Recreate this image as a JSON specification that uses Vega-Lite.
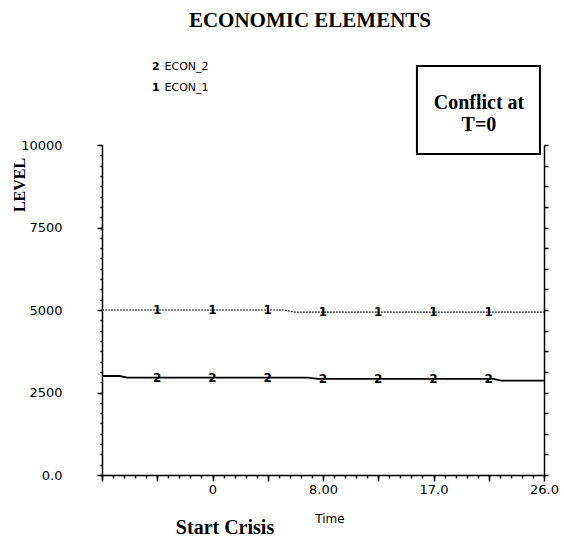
{
  "$schema": "https://vega.github.io/schema/vega-lite/v6.json",
  "width": 442,
  "height": 330,
  "autosize": {"type": "none"},
  "padding": {"left": 102, "top": 145, "right": 20, "bottom": 67},
  "background": "white",
  "config": {
    "view": {"stroke": null},
    "axis": {"grid": false, "domainColor": "black", "tickColor": "black", "labelColor": "black", "title": null, "labelFont": "DejaVu Sans", "labelFontSize": 13}
  },
  "datasets": {
    "lines": [
      {"series": "ECON_1", "time": -9, "level": 5000},
      {"series": "ECON_1", "time": 5.4, "level": 5000},
      {"series": "ECON_1", "time": 6.3, "level": 4935},
      {"series": "ECON_1", "time": 26, "level": 4935},
      {"series": "ECON_2", "time": -9, "level": 3000},
      {"series": "ECON_2", "time": -7.6, "level": 3000},
      {"series": "ECON_2", "time": -7.0, "level": 2950},
      {"series": "ECON_2", "time": 7.3, "level": 2950},
      {"series": "ECON_2", "time": 8.1, "level": 2910},
      {"series": "ECON_2", "time": 22.0, "level": 2910},
      {"series": "ECON_2", "time": 22.6, "level": 2860},
      {"series": "ECON_2", "time": 26, "level": 2860}
    ],
    "markers": [
      {"label": "1", "time": -4.625, "level": 5000},
      {"label": "1", "time": -0.25, "level": 5000},
      {"label": "1", "time": 4.125, "level": 5000},
      {"label": "1", "time": 8.5, "level": 4935},
      {"label": "1", "time": 12.875, "level": 4935},
      {"label": "1", "time": 17.25, "level": 4935},
      {"label": "1", "time": 21.625, "level": 4935},
      {"label": "2", "time": -4.625, "level": 2950},
      {"label": "2", "time": -0.25, "level": 2950},
      {"label": "2", "time": 4.125, "level": 2950},
      {"label": "2", "time": 8.5, "level": 2910},
      {"label": "2", "time": 12.875, "level": 2910},
      {"label": "2", "time": 17.25, "level": 2910},
      {"label": "2", "time": 21.625, "level": 2910}
    ]
  },
  "layer": [
    {
      "data": {"name": "lines"},
      "transform": [{"filter": "datum.series == 'ECON_1'"}],
      "mark": {"type": "line", "color": "#222", "strokeWidth": 1.2, "strokeDash": [2, 1]},
      "encoding": {
        "x": {"field": "time", "type": "quantitative", "scale": {"domain": [-9, 26], "nice": false, "zero": false},
          "axis": {"orient": "bottom", "values": [-9, -4.625, -0.25, 4.125, 8.5, 12.875, 17.25, 21.625, 26], "tickSize": 6, "tickWidth": 1.5, "domainWidth": 1.5, "labelPadding": 2, "labelOverlap": false, "labelFlush": false, "labelBound": false,
            "labelExpr": "datum.value == -0.25 ? '0' : datum.value == 8.5 ? '8.00' : datum.value == 17.25 ? '17.0' : datum.value == 26 ? '26.0' : ''"}},
        "y": {"field": "level", "type": "quantitative", "scale": {"domain": [0, 10000], "nice": false, "zero": false},
          "axis": {"orient": "left", "values": [0, 2500, 5000, 7500, 10000], "tickSize": 5, "tickWidth": 1.5, "domainWidth": 1.5, "labelPadding": 35, "labelOverlap": false, "labelFlush": false, "labelBound": false,
            "labelExpr": "datum.value == 0 ? '0.0' : '' + datum.value"}}
      }
    },
    {
      "data": {"name": "lines"},
      "transform": [{"filter": "datum.series == 'ECON_2'"}],
      "mark": {"type": "line", "color": "black", "strokeWidth": 1.8},
      "encoding": {
        "x": {"field": "time", "type": "quantitative", "scale": {"domain": [-9, 26], "nice": false, "zero": false},
          "axis": {"orient": "bottom", "values": [-9, -8.125, -7.25, -6.375, -5.5, -4.625, -3.75, -2.875, -2, -1.125, -0.25, 0.625, 1.5, 2.375, 3.25, 4.125, 5, 5.875, 6.75, 7.625, 8.5, 9.375, 10.25, 11.125, 12, 12.875, 13.75, 14.625, 15.5, 16.375, 17.25, 18.125, 19, 19.875, 20.75, 21.625, 22.5, 23.375, 24.25, 25.125, 26], "tickSize": 3, "tickWidth": 1.5, "domain": false, "labels": false}},
        "y": {"field": "level", "type": "quantitative", "scale": {"domain": [0, 10000], "nice": false, "zero": false},
          "axis": {"orient": "left", "values": [0, 312.5, 625, 937.5, 1250, 1562.5, 1875, 2187.5, 2500, 2812.5, 3125, 3437.5, 3750, 4062.5, 4375, 4687.5, 5000, 5312.5, 5625, 5937.5, 6250, 6562.5, 6875, 7187.5, 7500, 7812.5, 8125, 8437.5, 8750, 9062.5, 9375, 9687.5, 10000], "tickSize": 2, "tickWidth": 1.5, "domain": false, "labels": false}}
      }
    },
    {
      "data": {"name": "markers"},
      "mark": {"type": "text", "font": "DejaVu Sans", "fontWeight": "bold", "fontSize": 12, "baseline": "middle", "align": "center", "color": "black"},
      "encoding": {
        "x": {"field": "time", "type": "quantitative", "scale": {"domain": [-9, 26], "nice": false, "zero": false}, "axis": null},
        "y": {"field": "level", "type": "quantitative", "scale": {"domain": [0, 10000], "nice": false, "zero": false},
          "axis": {"orient": "right", "values": [0, 625, 1250, 1875, 2500, 3125, 3750, 4375, 5000, 5625, 6250, 6875, 7500, 8125, 8750, 9375, 10000], "tickSize": 4, "tickWidth": 1.5, "domainWidth": 1.5, "labels": false}},
        "text": {"field": "label"}
      }
    },
    {
      "data": {"values": [{}]},
      "mark": {"type": "rect", "fill": "white", "stroke": "black", "strokeWidth": 2},
      "encoding": {
        "x": {"datum": 15.94, "type": "quantitative", "scale": {"domain": [-9, 26], "nice": false, "zero": false}, "axis": null},
        "x2": {"datum": 25.68},
        "y": {"datum": 12394, "type": "quantitative", "scale": {"domain": [0, 10000], "nice": false, "zero": false}, "axis": null},
        "y2": {"datum": 9727}
      }
    },
    {
      "data": {"values": [{}]},
      "mark": {"type": "text", "text": ["Conflict at", "T=0"], "lineHeight": 22, "font": "Liberation Serif", "fontWeight": "bold", "fontSize": 20, "align": "center", "baseline": "alphabetic", "color": "black"},
      "encoding": {
        "x": {"datum": 20.85, "type": "quantitative", "scale": {"domain": [-9, 26], "nice": false, "zero": false}, "axis": null},
        "y": {"datum": 11091, "type": "quantitative", "scale": {"domain": [0, 10000], "nice": false, "zero": false}, "axis": null}
      }
    },
    {
      "data": {"values": [{}]},
      "mark": {"type": "text", "text": "ECONOMIC ELEMENTS", "font": "Liberation Serif", "fontWeight": "bold", "fontSize": 21, "align": "center", "baseline": "alphabetic", "color": "black"},
      "encoding": {
        "x": {"datum": 7.47, "type": "quantitative", "scale": {"domain": [-9, 26], "nice": false, "zero": false}, "axis": null},
        "y": {"datum": 13576, "type": "quantitative", "scale": {"domain": [0, 10000], "nice": false, "zero": false}, "axis": null}
      }
    },
    {
      "data": {"values": [{}]},
      "mark": {"type": "text", "text": ["2", "1"], "lineHeight": 21.5, "font": "DejaVu Sans", "fontWeight": "bold", "fontSize": 11, "align": "left", "baseline": "alphabetic", "color": "black"},
      "encoding": {
        "x": {"datum": -5.04, "type": "quantitative", "scale": {"domain": [-9, 26], "nice": false, "zero": false}, "axis": null},
        "y": {"datum": 12273, "type": "quantitative", "scale": {"domain": [0, 10000], "nice": false, "zero": false}, "axis": null}
      }
    },
    {
      "data": {"values": [{}]},
      "mark": {"type": "text", "text": ["ECON_2", "ECON_1"], "lineHeight": 21.5, "font": "DejaVu Sans", "fontSize": 11, "align": "left", "baseline": "alphabetic", "color": "black"},
      "encoding": {
        "x": {"datum": -4.05, "type": "quantitative", "scale": {"domain": [-9, 26], "nice": false, "zero": false}, "axis": null},
        "y": {"datum": 12273, "type": "quantitative", "scale": {"domain": [0, 10000], "nice": false, "zero": false}, "axis": null}
      }
    },
    {
      "data": {"values": [{}]},
      "mark": {"type": "text", "text": "Start Crisis", "font": "Liberation Serif", "fontWeight": "bold", "fontSize": 20, "align": "center", "baseline": "alphabetic", "color": "black"},
      "encoding": {
        "x": {"datum": 0.74, "type": "quantitative", "scale": {"domain": [-9, 26], "nice": false, "zero": false}, "axis": null},
        "y": {"datum": -1790, "type": "quantitative", "scale": {"domain": [0, 10000], "nice": false, "zero": false}, "axis": null}
      }
    },
    {
      "data": {"values": [{}]},
      "mark": {"type": "text", "text": "Time", "font": "DejaVu Sans", "fontSize": 12, "align": "center", "baseline": "alphabetic", "color": "black"},
      "encoding": {
        "x": {"datum": 9.05, "type": "quantitative", "scale": {"domain": [-9, 26], "nice": false, "zero": false}, "axis": null},
        "y": {"datum": -1455, "type": "quantitative", "scale": {"domain": [0, 10000], "nice": false, "zero": false}, "axis": null}
      }
    },
    {
      "data": {"values": [{}]},
      "mark": {"type": "text", "text": "LEVEL", "angle": 270, "font": "Liberation Serif", "fontWeight": "bold", "fontSize": 16, "align": "center", "baseline": "alphabetic", "color": "black"},
      "encoding": {
        "x": {"datum": -15.1, "type": "quantitative", "scale": {"domain": [-9, 26], "nice": false, "zero": false}, "axis": null},
        "y": {"datum": 8788, "type": "quantitative", "scale": {"domain": [0, 10000], "nice": false, "zero": false}, "axis": null}
      }
    }
  ],
  "resolve": {"axis": {"x": "independent", "y": "independent"}}
}
